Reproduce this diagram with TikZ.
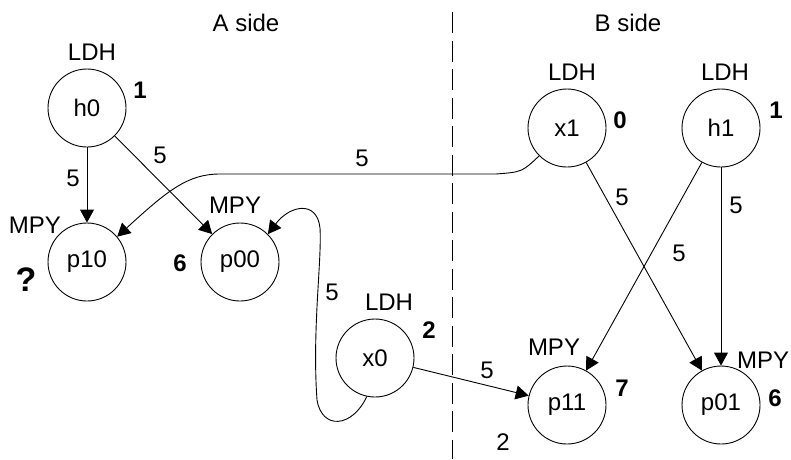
\documentclass[tikz,border=0pt]{standalone}
\usepackage{fontspec}
\setmainfont{Liberation Sans}
\usetikzlibrary{shapes,arrows,arrows.meta}
\newcommand{\diagfont}{\fontsize{24}{28}\selectfont}
\tikzstyle{op} = [circle, draw=black, minimum size=78pt, inner sep=0pt, line width=0.9pt, font=\diagfont]
\tikzstyle{unit} = [inner sep=0pt, font=\diagfont]
\tikzstyle{lat} = [inner sep=0pt, font=\diagfont\bfseries]
\tikzstyle{arrow} = [line width=0.9pt,-{Triangle[length=13pt,width=14pt]}]

\begin{document}
\begin{tikzpicture}[x=1pt,y=-1pt]
                        \useasboundingbox (0,0) rectangle (791,459);
                        % sides
                        \draw[line width=0.9pt, dash pattern=on 21pt off 7.5pt] (452,12) -- (452,459);
                        \node[unit] (sidea) at (246,23) {A side};
                        \node[unit] (sideb) at (628,23) {B side};
                        % operations
                        \node[op] (h0) at (87,108) {h0};
                        \node[op] (x1) at (567,128) {x1};
                        \node[op] (h1) at (721,128) {h1};
                        \node[op] (p10) at (87,262) {p10};
                        \node[op] (p00) at (240,262) {p00};
                        \node[op] (x0) at (375,358) {x0};
                        \node[op] (p11) at (567,405) {p11};
                        \node[op] (p01) at (721,405) {p01};
                        % units
                        \node[unit] (uh0) at (92,52) {LDH};
                        \node[unit] (ux1) at (572,72) {LDH};
                        \node[unit] (uh1) at (725,72) {LDH};
                        \node[unit] (ux0) at (389,302) {LDH};
                        \node[unit] (up10) at (35,225) {MPY};
                        \node[unit] (up00) at (235,205) {MPY};
                        \node[unit] (up11) at (554,347) {MPY};
                        \node[unit] (up01) at (763,360) {MPY};
                        % cycles
                        \node[lat] (th0) at (140,90) {1};
                        \node[lat] (tx1) at (620,120) {0};
                        \node[lat] (th1) at (776,110) {1};
                        \node[lat] (tx0) at (429,330) {2};
                        \node[lat] (tp00) at (180,263) {6};
                        \node[lat] (tp11) at (622,388) {7};
                        \node[lat] (tp01) at (775,398) {6};
                        \node[lat, font=\fontsize{34}{38}\selectfont\bfseries] (tp10) at (26,280) {?};
                        \node[unit] (cross) at (503,442) {2};
                        % dependences
                        \draw[arrow] (h0) -- (p10);
                        \draw[arrow] (h0) -- (p00);
                        \draw[arrow] (x1) -- (p01);
                        \draw[arrow] (h1) -- (p11);
                        \draw[arrow] (h1) -- (p01);
                        \draw[arrow] (x0) -- (p11);
                        \draw[arrow] (x1.225) .. controls (522,172) .. (496,174) -- (220,174)
                            .. controls (188,174) and (168,190) .. (p10.40);
                        \draw[arrow] (x0.258) .. controls (352,428) and (322,430) .. (317,400)
                            .. controls (312,330) and (322,260) .. (320,228)
                            .. controls (317,200) and (290,205) .. (p00.45);
                        \node[unit] (lh0p10) at (73,178) {5};
                        \node[unit] (lh0p00) at (160,155) {5};
                        \node[unit] (lx1p10) at (362,158) {5};
                        \node[unit] (lx0p00) at (332,292) {5};
                        \node[unit] (lx0p11) at (487,370) {5};
                        \node[unit] (lx1p01) at (622,197) {5};
                        \node[unit] (lh1p11) at (679,253) {5};
                        \node[unit] (lh1p01) at (736,205) {5};
\end{tikzpicture}
\end{document}
